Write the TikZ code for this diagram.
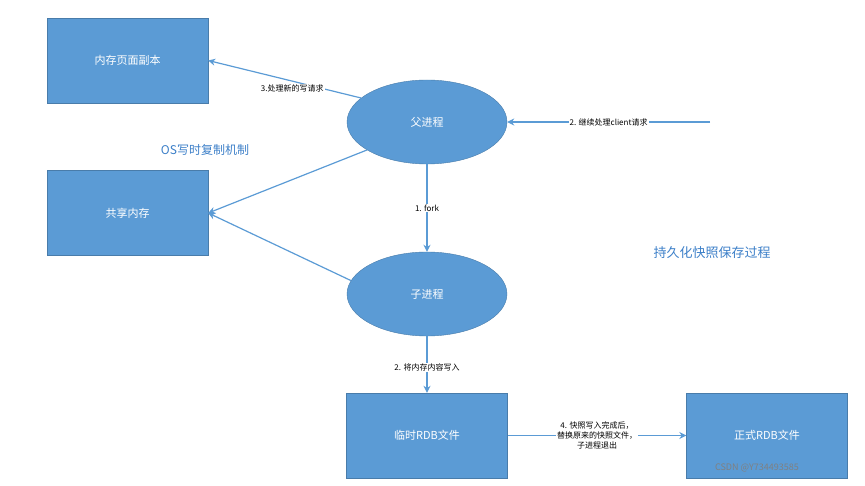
\documentclass[tikz,border=0pt]{standalone}
\usepackage{fontspec}
\setmainfont{Noto Sans CJK SC}
\usetikzlibrary{shapes.geometric,arrows.meta}
\definecolor{bl}{HTML}{5B9BD5}
\definecolor{tb}{HTML}{3C7FC8}
\begin{document}
\begin{tikzpicture}[x=1pt,y=-1pt,
 box/.style={draw=bl!80!black,fill=bl,text=white,minimum width=161pt,minimum height=85pt,font=\fontsize{11}{13}\selectfont,inner sep=0},
 ell/.style={ellipse,draw=bl!80!black,fill=bl,text=white,minimum width=160pt,minimum height=84pt,font=\fontsize{11}{13}\selectfont,inner sep=0},
 arr/.style={draw=bl,line width=1.2pt,-{Stealth[length=7pt,width=7pt]}},
 lab/.style={fill=white,font=\fontsize{8}{10}\selectfont,inner sep=1pt,align=center}]
\useasboundingbox (0,0) rectangle (865,486);
\node[box] (copy) at (127.5,60.5) {内存页面副本};
\node[box] (shm) at (127.5,213) {共享内存};
\node[ell] (par) at (427,122) {父进程};
\node[ell] (chd) at (427,294) {子进程};
\node[box] (tmp) at (427,435.5) {临时RDB文件};
\node[box] (rdb) at (767,435.5) {正式RDB文件};
\coordinate (cl) at (710,122);
\draw[arr] (par.160) -- node[lab,pos=0.45,below=2pt]{3.处理新的写请求} (copy.east);
\draw[arr] (par.205) -- (shm.east);
\draw[arr] (chd.170) -- (shm.east);
\draw[arr] (par) -- node[lab]{1. fork} (chd);
\draw[arr] (cl) -- node[lab]{2. 继续处理client请求} (par);
\draw[arr] (chd) -- node[lab,pos=0.55]{2. 将内存内容写入} (tmp);
\draw[arr] (tmp) -- node[lab]{4. 快照写入完成后，\\替换原来的快照文件，\\子进程退出} (rdb);
\node[text=tb,font=\fontsize{12}{14}\selectfont] (os) at (205,150) {OS写时复制机制};
\node[text=tb,font=\fontsize{13}{15}\selectfont] (tt) at (712,253) {持久化快照保存过程};
\node[text=gray,font=\fontsize{9}{11}\selectfont] (wm) at (757,468) {CSDN @Y734493585};
\end{tikzpicture}
\end{document}
